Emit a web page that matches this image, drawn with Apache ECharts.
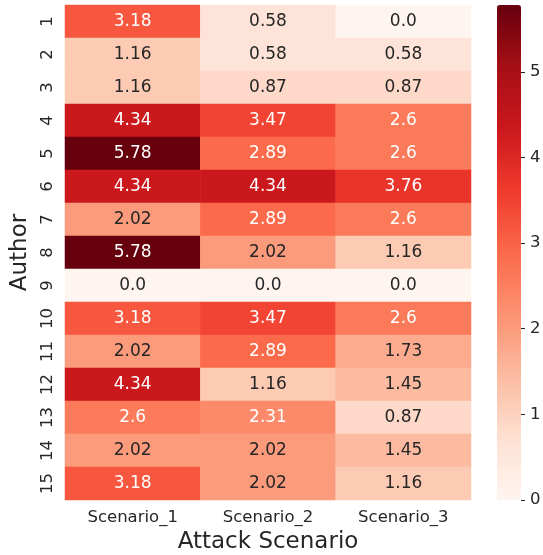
<!DOCTYPE html>
<html>
<head>
<meta charset="utf-8">
<script src="https://cdn.jsdelivr.net/npm/echarts@6/dist/echarts.min.js"></script>
<style>html,body{margin:0;padding:0;background:#fff}#c{width:543px;height:555px}</style>
</head>
<body>
<div id="c"></div>
<script>
const scenarios = ['Scenario_1', 'Scenario_2', 'Scenario_3'];
const authors = ['1','2','3','4','5','6','7','8','9','10','11','12','13','14','15'];
const scenario1 = [3.18, 1.16, 1.16, 4.34, 5.78, 4.34, 2.02, 5.78, 0.0, 3.18, 2.02, 4.34, 2.6, 2.02, 3.18];
const scenario2 = [0.58, 0.58, 0.87, 3.47, 2.89, 4.34, 2.89, 2.02, 0.0, 3.47, 2.89, 1.16, 2.31, 2.02, 2.02];
const scenario3 = [0.0, 0.58, 0.87, 2.6, 2.6, 3.76, 2.6, 1.16, 0.0, 2.6, 1.73, 1.45, 0.87, 1.45, 1.16];
const colorbarTicks = [0, 1, 2, 3, 4, 5];

const cols = [scenario1, scenario2, scenario3];
const vmin = 0, vmax = 5.78;
const reds = ['#fff5f0','#fee0d2','#fcbba1','#fc9272','#fb6a4a','#ef3b2c','#cb181d','#a50f15','#67000d'];
const font = 'DejaVu Sans';

const data = [];
cols.forEach((col, x) => col.forEach((v, y) => {
  data.push({ value: [x, y, v], label: { color: v > 2.15 ? '#ffffff' : '#262626' } });
}));

function fmt(v) { return Number.isInteger(v) ? v.toFixed(1) : String(v); }

const chart = echarts.init(document.getElementById('c'), null, { renderer: 'canvas' });
chart.setOption({
  animation: false,
  backgroundColor: '#ffffff',
  grid: [
    { left: 65, top: 5, width: 406, height: 495, outerBoundsMode: 'none', containLabel: false },
    { left: 497, top: 5, width: 24, height: 495, outerBoundsMode: 'none', containLabel: false }
  ],
  xAxis: [
    {
      gridIndex: 0, type: 'category', data: scenarios,
      axisLine: { show: false }, axisTick: { show: false }, splitLine: { show: false },
      axisLabel: { fontFamily: font, fontSize: 16.5, color: '#262626', margin: 9 },
      name: 'Attack Scenario', nameLocation: 'middle', nameGap: 31,
      nameTextStyle: { fontFamily: font, fontSize: 23, color: '#262626' }
    },
    { gridIndex: 1, type: 'value', min: 0, max: 1, axisLine: { show: false }, axisTick: { show: false }, axisLabel: { show: false }, splitLine: { show: false } }
  ],
  yAxis: [
    {
      gridIndex: 0, type: 'category', data: authors, inverse: true,
      axisLine: { show: false }, axisTick: { show: false }, splitLine: { show: false },
      axisLabel: { fontFamily: font, fontSize: 16.5, color: '#262626', rotate: 90, margin: 9 },
      name: 'Author', nameLocation: 'middle', nameGap: 30, nameRotate: 90,
      nameTextStyle: { fontFamily: font, fontSize: 23, color: '#262626' }
    },
    {
      gridIndex: 1, type: 'value', position: 'right', min: vmin, max: vmax, interval: 1,
      axisLine: { show: true, onZero: false, lineStyle: { color: '#ffffff', width: 0.01 } },
      splitLine: { show: false },
      axisTick: { show: true, inside: false, length: 4, lineStyle: { color: '#262626', width: 1 }, customValues: colorbarTicks },
      axisLabel: {
        fontFamily: font, fontSize: 16.5, color: '#262626', margin: 9,
        customValues: colorbarTicks
      }
    }
  ],
  visualMap: {
    type: 'continuous', min: vmin, max: vmax, seriesIndex: 0,
    calculable: false, orient: 'vertical', left: 497, top: 5,
    itemWidth: 24, itemHeight: 495, padding: 0, text: null, showLabel: false,
    inRange: { color: reds }, hoverLink: false, z: 1
  },
  series: [{
    type: 'heatmap', xAxisIndex: 0, yAxisIndex: 0, data: data,
    itemStyle: { borderWidth: 0 },
    label: {
      show: true, fontFamily: font, fontSize: 17,
      formatter: p => fmt(p.value[2])
    },
    emphasis: { disabled: true }
  }]
});
</script>
</body>
</html>
